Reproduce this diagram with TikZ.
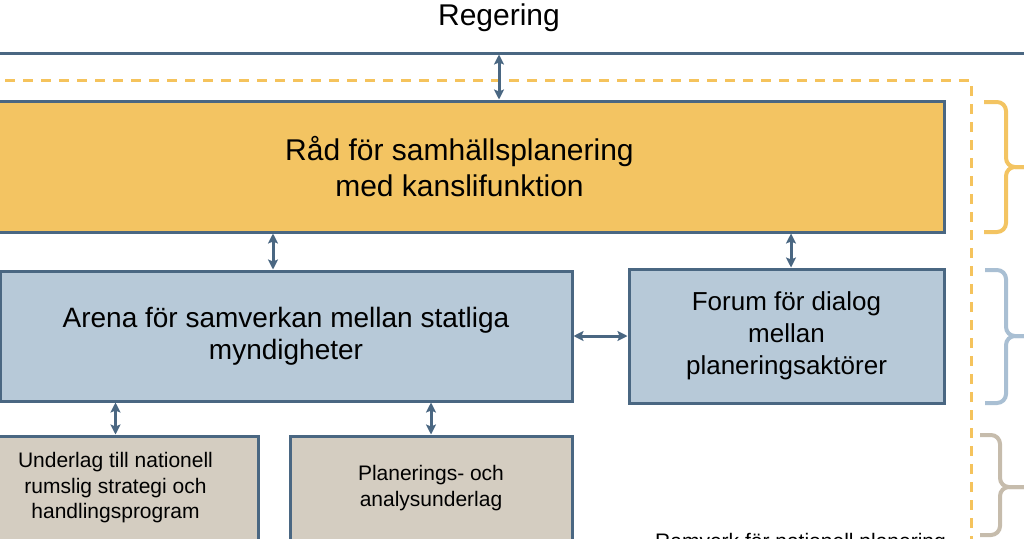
\documentclass[tikz,border=0pt]{standalone}
\usepackage{fontspec}
\setmainfont{Liberation Sans}
\usetikzlibrary{arrows.meta}
\definecolor{frame}{HTML}{4A6782}
\definecolor{gold}{HTML}{F3C462}
\definecolor{paleblue}{HTML}{B7C9D8}
\definecolor{sand}{HTML}{D4CDC1}
\definecolor{braceblue}{HTML}{A9BFD3}
\definecolor{bracesand}{HTML}{C6BCAC}
\definecolor{dashgold}{HTML}{F5C35C}
\begin{document}
\begin{tikzpicture}[x=1pt,y=-1pt,
  box/.style={draw=frame, line width=3pt, inner sep=0pt, align=center},
  link/.style={draw=frame, line width=3pt, {Stealth[length=10pt,width=10pt,inset=2pt]}-{Stealth[length=10pt,width=10pt,inset=2pt]}},
  bracket/.style={line width=4pt, rounded corners=9pt},
  big/.style={font=\fontsize{30}{36}\selectfont},
  mid/.style={font=\fontsize{26}{32}\selectfont},
  small/.style={font=\fontsize{21}{25.5}\selectfont}]
\useasboundingbox (0,0) rectangle (1024,538);
% Regering
\node[big, anchor=base] (reg) at (499,25) {Regering};
\draw[frame, line width=3pt] (-5,53) -- (1030,53);
\coordinate (gov) at (499,54.5);
% dashed frame
\draw[dashgold, line width=3pt, dash pattern=on 10pt off 8pt] (5,80) -- (971,80) -- (971,545);
% boxes
\node[box, big, fill=gold, minimum width=969pt, minimum height=131pt] (rad) at (459.5,166.5)
  {Råd för samhällsplanering\\med kanslifunktion};
\node[box, fill=paleblue, minimum width=572pt, minimum height=130pt, font=\fontsize{28}{32}\selectfont] (arena) at (286,336)
  {Arena för samverkan mellan statliga\\myndigheter};
\node[box, mid, fill=paleblue, minimum width=315pt, minimum height=134pt] (forum) at (786.5,336)
  {Forum för dialog\\mellan\\planeringsaktörer};
\node[box, small, fill=sand, minimum width=285pt, minimum height=104pt] (underlag) at (115.5,488)
  {Underlag till nationell\\rumslig strategi och\\handlingsprogram};
\node[box, small, fill=sand, minimum width=282pt, minimum height=104pt] (planering) at (431,488)
  {Planerings- och\\analysunderlag};
% connectors
\draw[link] (gov) -- (gov |- rad.north);
\draw[link] ([xshift=-13pt]arena.north |- rad.south) -- ([xshift=-13pt]arena.north);
\draw[link] ([xshift=4.5pt]forum.north |- rad.south) -- ([xshift=4.5pt]forum.north);
\draw[link] (arena.east) -- (arena.east -| forum.west);
\draw[link] (underlag.north |- arena.south) -- (underlag.north);
\draw[link] (planering.north |- arena.south) -- (planering.north);
% braces
\draw[bracket, gold] (984,102) -- (1006,102) -- (1006,167) -- (1032,167);
\draw[bracket, gold] (984,232) -- (1006,232) -- (1006,167) -- (1032,167);
\draw[bracket, braceblue] (985,270) -- (1006,270) -- (1006,336) -- (1032,336);
\draw[bracket, braceblue] (985,403) -- (1006,403) -- (1006,336) -- (1032,336);
\draw[bracket, bracesand] (980,435) -- (1000,435) -- (1000,487) -- (1032,487);
\draw[bracket, bracesand] (980,535) -- (1000,535) -- (1000,487) -- (1032,487);
% bottom label (cut by the lower edge, as in the reference)
\node[small, anchor=base west, inner sep=0pt] (ramverk) at (655,548) {Ramverk för nationell planering};
\end{tikzpicture}
\end{document}
